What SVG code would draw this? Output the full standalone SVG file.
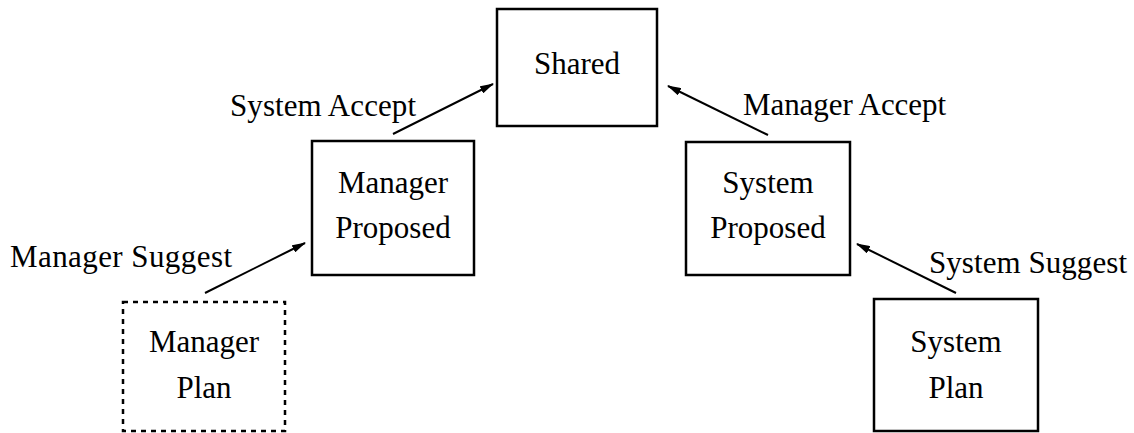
<svg xmlns="http://www.w3.org/2000/svg" width="1134" height="433" viewBox="0 0 1134 433">
<style>
.box{fill:#fff;stroke:#000;stroke-width:2.5}
.dash{stroke-dasharray:5 5}
.t{font-family:"Liberation Serif","Times New Roman",serif;font-size:31px;fill:#000}
.c{text-anchor:middle}
.e{stroke:#000;stroke-width:2;fill:none;marker-end:url(#ah)}
</style>
<defs>
<marker id="ah" viewBox="0 0 14 8" refX="13" refY="4" markerWidth="14" markerHeight="8" markerUnits="userSpaceOnUse" orient="auto">
<path d="M0,0 L14,4 L0,8 Z" fill="#000"/>
</marker>
</defs>
<rect width="1134" height="433" fill="#fff"/>
<g id="connectors">
<line class="e" x1="205" y1="293" x2="305" y2="243"/>
<line class="e" x1="393" y1="134" x2="493" y2="84"/>
<line class="e" x1="768" y1="135" x2="668" y2="86"/>
<line class="e" x1="956" y1="293" x2="857" y2="244"/>
<text class="t" x="10" y="267" textLength="222" lengthAdjust="spacing">Manager Suggest</text>
<text class="t" x="230" y="116" textLength="186" lengthAdjust="spacing">System Accept</text>
<text class="t" x="743" y="115" textLength="203" lengthAdjust="spacing">Manager Accept</text>
<text class="t" x="929" y="273" textLength="198" lengthAdjust="spacing">System Suggest</text>
</g>
<g id="shared">
<rect class="box" x="497" y="9" width="160" height="117"/>
<text class="t c" x="577" y="74">Shared</text>
</g>
<g id="manager-proposed">
<rect class="box" x="312" y="141" width="162" height="134"/>
<text class="t c" x="393" y="193">Manager</text>
<text class="t c" x="393" y="238">Proposed</text>
</g>
<g id="system-proposed">
<rect class="box" x="686" y="142" width="164" height="133"/>
<text class="t c" x="768" y="193">System</text>
<text class="t c" x="768" y="238">Proposed</text>
</g>
<g id="manager-plan">
<rect class="box dash" x="123" y="302" width="162" height="129"/>
<text class="t c" x="204" y="352">Manager</text>
<text class="t c" x="204" y="398">Plan</text>
</g>
<g id="system-plan">
<rect class="box" x="874" y="299" width="164" height="132"/>
<text class="t c" x="956" y="352">System</text>
<text class="t c" x="956" y="398">Plan</text>
</g>
</svg>
